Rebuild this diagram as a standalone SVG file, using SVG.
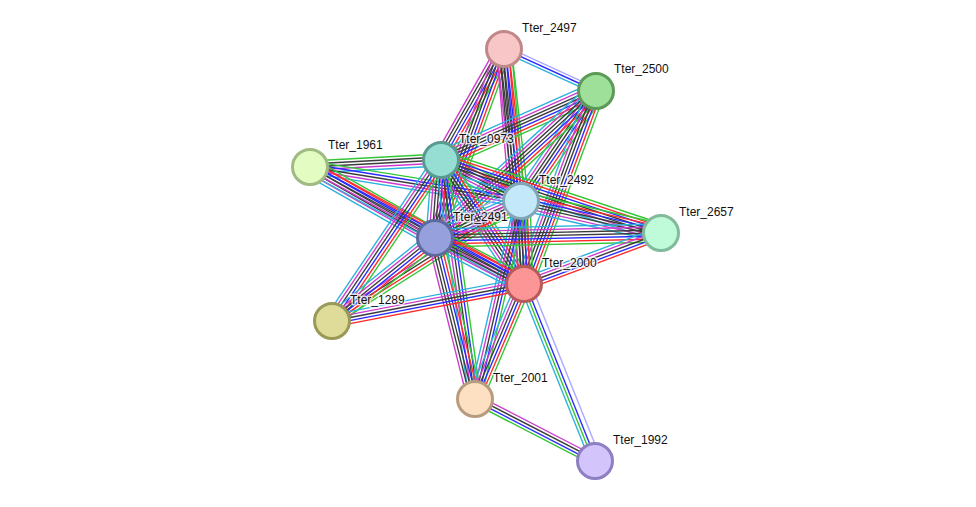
<svg xmlns="http://www.w3.org/2000/svg" xmlns:xlink="http://www.w3.org/1999/xlink" width="976" height="507" viewBox="0 0 976 507">
<style>
line{stroke-width:1.2;fill:none}
.g{stroke:#33c633}.r{stroke:#ff2a2a}.b{stroke:#2a2aff}.k{stroke:#3c3c3c}.m{stroke:#cc3ccc}.c{stroke:#2ab2dc}.l{stroke:#a8a8ff}
.node circle{stroke-width:3}
.lbl{font-family:"Liberation Sans",Arial,sans-serif;font-size:12px;fill:#111;stroke:#fff;stroke-width:3;stroke-opacity:0.75;paint-order:stroke;stroke-linejoin:round}
</style>
<defs>
<g id="T7"><line x2="1" y1="-7.8" y2="-7.8" class="g"/><line x2="1" y1="-5.2" y2="-5.2" class="r"/><line x2="1" y1="-2.6" y2="-2.6" class="b"/><line x2="1" y1="0" y2="0" class="k"/><line x2="1" y1="2.6" y2="2.6" class="k"/><line x2="1" y1="5.2" y2="5.2" class="m"/><line x2="1" y1="7.8" y2="7.8" class="c"/></g>
<g id="T8"><line x2="1" y1="-9.1" y2="-9.1" class="g"/><line x2="1" y1="-6.5" y2="-6.5" class="r"/><line x2="1" y1="-3.9" y2="-3.9" class="b"/><line x2="1" y1="-1.3" y2="-1.3" class="k"/><line x2="1" y1="1.3" y2="1.3" class="k"/><line x2="1" y1="3.9" y2="3.9" class="m"/><line x2="1" y1="6.5" y2="6.5" class="c"/><line x2="1" y1="9.1" y2="9.1" class="l"/></g>
<g id="T6"><line x2="1" y1="-6.5" y2="-6.5" class="g"/><line x2="1" y1="-3.9" y2="-3.9" class="r"/><line x2="1" y1="-1.3" y2="-1.3" class="b"/><line x2="1" y1="1.3" y2="1.3" class="k"/><line x2="1" y1="3.9" y2="3.9" class="k"/><line x2="1" y1="6.5" y2="6.5" class="m"/></g>
<g id="T6c"><line x2="1" y1="-6.5" y2="-6.5" class="g"/><line x2="1" y1="-3.9" y2="-3.9" class="r"/><line x2="1" y1="-1.3" y2="-1.3" class="b"/><line x2="1" y1="1.3" y2="1.3" class="k"/><line x2="1" y1="3.9" y2="3.9" class="m"/><line x2="1" y1="6.5" y2="6.5" class="c"/></g>
<g id="T5"><line x2="1" y1="-5.2" y2="-5.2" class="r"/><line x2="1" y1="-2.6" y2="-2.6" class="b"/><line x2="1" y1="0" y2="0" class="k"/><line x2="1" y1="2.6" y2="2.6" class="m"/><line x2="1" y1="5.2" y2="5.2" class="c"/></g>
<g id="T5g"><line x2="1" y1="-5.2" y2="-5.2" class="g"/><line x2="1" y1="-2.6" y2="-2.6" class="b"/><line x2="1" y1="0" y2="0" class="k"/><line x2="1" y1="2.6" y2="2.6" class="m"/><line x2="1" y1="5.2" y2="5.2" class="c"/></g>
<g id="T5k"><line x2="1" y1="-5.2" y2="-5.2" class="g"/><line x2="1" y1="-2.6" y2="-2.6" class="k"/><line x2="1" y1="0" y2="0" class="k"/><line x2="1" y1="2.6" y2="2.6" class="m"/><line x2="1" y1="5.2" y2="5.2" class="c"/></g>
<g id="TEI"><line x2="1" y1="-3.9" y2="-3.9" class="g"/><line x2="1" y1="-1.3" y2="-1.3" class="r"/><line x2="1" y1="1.3" y2="1.3" class="k"/><line x2="1" y1="3.9" y2="3.9" class="m"/></g>
<g id="TAB"><line x2="1" y1="-2.6" y2="-2.6" class="l"/><line x2="1" y1="0" y2="0" class="b"/><line x2="1" y1="2.6" y2="2.6" class="c"/></g>
<g id="THK"><line x2="1" y1="-5.5" y2="-5.5" class="l"/><line x2="1" y1="-1.3" y2="-1.3" class="b"/><line x2="1" y1="1.3" y2="1.3" class="g"/><line x2="1" y1="3.9" y2="3.9" class="c"/></g>
<g id="TJK"><line x2="1" y1="-3.9" y2="-3.9" class="m"/><line x2="1" y1="-1.3" y2="-1.3" class="k"/><line x2="1" y1="1.3" y2="1.3" class="b"/><line x2="1" y1="3.9" y2="3.9" class="g"/></g>
</defs>
<rect width="976" height="507" fill="#fff"/>
<g id="edges">
<use href="#TAB" transform="translate(504 49) rotate(24.54) scale(101.13 1.15)"/>
<use href="#T6" transform="translate(504 49) rotate(119.58) scale(127.63 1.15)"/>
<use href="#T6" transform="translate(504 49) rotate(110.06) scale(201.2 1.15)"/>
<use href="#T6" transform="translate(504 49) rotate(83.62) scale(152.95 1.15)"/>
<use href="#T6" transform="translate(504 49) rotate(85.14) scale(235.85 1.15)"/>
<use href="#T7" transform="translate(596 91) rotate(156.0) scale(169.66 1.15)"/>
<use href="#T7" transform="translate(596 91) rotate(124.29) scale(133.14 1.15)"/>
<use href="#T7" transform="translate(596 91) rotate(137.6) scale(218.01 1.15)"/>
<use href="#T7" transform="translate(596 91) rotate(110.45) scale(205.99 1.15)"/>
<use href="#T5k" transform="translate(310 167) rotate(-3.06) scale(131.19 1.15)"/>
<use href="#T5g" transform="translate(310 167) rotate(9.15) scale(213.72 1.15)"/>
<use href="#T7" transform="translate(310 167) rotate(29.6) scale(143.76 1.15)"/>
<use href="#T5" transform="translate(310 167) rotate(28.66) scale(243.9 1.15)"/>
<use href="#T7" transform="translate(441 160) rotate(27.14) scale(89.89 1.15)"/>
<use href="#T7" transform="translate(441 160) rotate(18.36) scale(231.8 1.15)"/>
<use href="#T7" transform="translate(441 160) rotate(94.4) scale(78.23 1.15)"/>
<use href="#T7" transform="translate(441 160) rotate(56.2) scale(149.21 1.15)"/>
<use href="#T6c" transform="translate(441 160) rotate(124.1) scale(194.43 1.15)"/>
<use href="#T5g" transform="translate(441 160) rotate(81.9) scale(241.41 1.15)"/>
<use href="#T7" transform="translate(521 201) rotate(12.88) scale(143.61 1.15)"/>
<use href="#T8" transform="translate(521 201) rotate(156.72) scale(93.62 1.15)"/>
<use href="#T7" transform="translate(521 201) rotate(87.93) scale(83.05 1.15)"/>
<use href="#TEI" transform="translate(521 201) rotate(147.59) scale(223.88 1.15)"/>
<use href="#T5g" transform="translate(521 201) rotate(103.08) scale(203.27 1.15)"/>
<use href="#T7" transform="translate(661 233) rotate(178.73) scale(226.06 1.15)"/>
<use href="#T5" transform="translate(661 233) rotate(159.58) scale(146.19 1.15)"/>
<use href="#T7" transform="translate(435 238) rotate(27.33) scale(100.18 1.15)"/>
<use href="#T6c" transform="translate(435 238) rotate(141.14) scale(132.28 1.15)"/>
<use href="#T6" transform="translate(435 238) rotate(76.05) scale(165.89 1.15)"/>
<use href="#T5" transform="translate(524 284) rotate(169.09) scale(195.53 1.15)"/>
<use href="#T6c" transform="translate(524 284) rotate(113.08) scale(125.0 1.15)"/>
<use href="#THK" transform="translate(524 284) rotate(68.15) scale(190.71 1.15)"/>
<use href="#TJK" transform="translate(475 399) rotate(27.32) scale(135.07 1.15)"/>
</g>
<g id="n-Tter_2497" class="node"><circle cx="504" cy="49" r="17.5" fill="#f8c6c6" stroke="#c08888"/><text class="lbl" x="522" y="32">Tter_2497</text></g>
<g id="n-Tter_2500" class="node"><circle cx="596" cy="91" r="17.5" fill="#9ee09a" stroke="#5c9a58"/><text class="lbl" x="614" y="73">Tter_2500</text></g>
<g id="n-Tter_1961" class="node"><circle cx="310" cy="167" r="17.5" fill="#e2fcc2" stroke="#a0ba84"/><text class="lbl" x="328" y="149">Tter_1961</text></g>
<g id="n-Tter_0973" class="node"><circle cx="441" cy="160" r="17.5" fill="#96ded4" stroke="#5a9a92"/><text class="lbl" x="459" y="143">Tter_0973</text></g>
<g id="n-Tter_2492" class="node"><circle cx="521" cy="201" r="17.5" fill="#c2e8fa" stroke="#80a6b6"/><text class="lbl" x="539" y="184">Tter_2492</text></g>
<g id="n-Tter_2657" class="node"><circle cx="661" cy="233" r="17.5" fill="#bffad9" stroke="#82ba9c"/><text class="lbl" x="679" y="216">Tter_2657</text></g>
<g id="n-Tter_2491" class="node"><circle cx="435" cy="238" r="17.5" fill="#96a0dc" stroke="#5c6a9e"/><text class="lbl" x="453" y="221">Tter_2491</text></g>
<g id="n-Tter_2000" class="node"><circle cx="524" cy="284" r="17.5" fill="#fc9696" stroke="#b85a5a"/><text class="lbl" x="542" y="267">Tter_2000</text></g>
<g id="n-Tter_1289" class="node"><circle cx="332" cy="321" r="17.5" fill="#dedc98" stroke="#9a9a58"/><text class="lbl" x="350" y="304">Tter_1289</text></g>
<g id="n-Tter_2001" class="node"><circle cx="475" cy="399" r="17.5" fill="#fde0c2" stroke="#b89c80"/><text class="lbl" x="493" y="382">Tter_2001</text></g>
<g id="n-Tter_1992" class="node"><circle cx="595" cy="461" r="17.5" fill="#d4c4fc" stroke="#8e7ec2"/><text class="lbl" x="613" y="444">Tter_1992</text></g>
</svg>
